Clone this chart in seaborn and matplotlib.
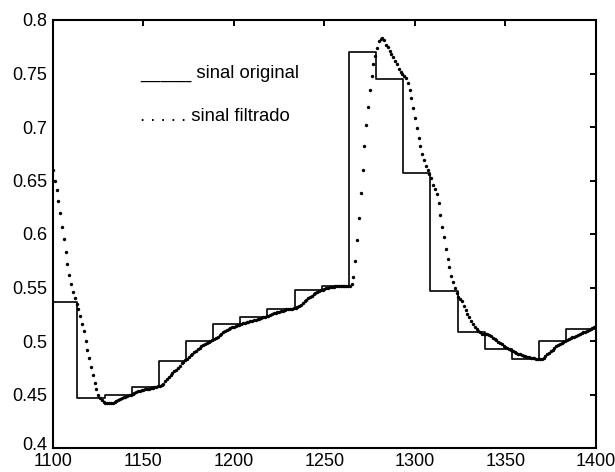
import numpy as np
import matplotlib
matplotlib.use("Agg")
import matplotlib.pyplot as plt
import matplotlib.transforms as mtransforms
import seaborn as sns

# ---- data -------------------------------------------------------------
# original (sample-and-hold) signal: change points and held levels
step_x = [1100, 1113.5, 1128.5, 1143.5, 1158.5, 1173.5, 1188.5, 1203.5, 1218.5,
          1233.5, 1248.5, 1263.5, 1278.5, 1293.5, 1308.5, 1323.5, 1338.5,
          1353.5, 1368.5, 1383.5, 1400]
step_y = [0.536, 0.447, 0.450, 0.457, 0.481, 0.500, 0.5156, 0.522, 0.5296,
          0.548, 0.551, 0.770, 0.745, 0.657, 0.547, 0.508, 0.4925,
          0.483, 0.500, 0.5115, 0.5115]

# filtered signal, one value per sample starting at 1100
filt_start = 1100
filt_y = [
    0.660, 0.650, 0.641, 0.631, 0.620, 0.607, 0.595, 0.583, 0.572, 0.562,   # 1100
    0.553, 0.546, 0.540, 0.535, 0.530, 0.523, 0.516, 0.509, 0.500, 0.492,   # 1110
    0.484, 0.476, 0.468, 0.461, 0.455, 0.450, 0.447, 0.445, 0.443, 0.4425,  # 1120
    0.442, 0.442, 0.442, 0.4425, 0.443, 0.444, 0.445, 0.446, 0.447, 0.4475, # 1130
    0.448, 0.449, 0.4495, 0.450, 0.4505, 0.451, 0.452, 0.453, 0.4535, 0.454, # 1140
    0.4545, 0.455, 0.4553, 0.4556, 0.456, 0.4563, 0.4566, 0.457, 0.4575, 0.458, # 1150
    0.4585, 0.460, 0.4625, 0.4645, 0.4665, 0.4685, 0.470, 0.4715, 0.473, 0.475, # 1160
    0.477, 0.479, 0.4805, 0.482, 0.4835, 0.485, 0.4865, 0.488, 0.4895, 0.491,   # 1170
    0.4925, 0.4935, 0.495, 0.496, 0.497, 0.498, 0.499, 0.500, 0.501, 0.502,     # 1180
    0.503, 0.504, 0.5055, 0.507, 0.508, 0.509, 0.510, 0.511, 0.512, 0.513,      # 1190
    0.5135, 0.514, 0.5145, 0.515, 0.5155, 0.5165, 0.517, 0.5175, 0.518, 0.5185, # 1200
    0.519, 0.5195, 0.520, 0.5205, 0.521, 0.5215, 0.522, 0.5225, 0.523, 0.5237,  # 1210
    0.5245, 0.5252, 0.526, 0.5265, 0.527, 0.5275, 0.528, 0.5285, 0.529, 0.5295, # 1220
    0.5298, 0.530, 0.5303, 0.5305, 0.531, 0.532, 0.533, 0.534, 0.5355, 0.537,   # 1230
    0.5385, 0.540, 0.5414, 0.5425, 0.5435, 0.5445, 0.5455, 0.5465, 0.5475, 0.548, # 1240
    0.5488, 0.5495, 0.550, 0.5503, 0.5506, 0.5508, 0.551, 0.551, 0.551, 0.551,  # 1250
    0.551, 0.551, 0.551, 0.551, 0.551, 0.553, 0.5595, 0.575, 0.594, 0.615,      # 1260
    0.638, 0.660, 0.682, 0.702, 0.719, 0.735, 0.748, 0.7586, 0.766, 0.774,      # 1270
    0.780, 0.782, 0.783, 0.781, 0.777, 0.7745, 0.771, 0.768, 0.765, 0.762,      # 1280
    0.7586, 0.7545, 0.7517, 0.7492, 0.7477, 0.7461, 0.7414, 0.7346, 0.7268, 0.7175, # 1290
    0.708, 0.699, 0.690, 0.682, 0.675, 0.669, 0.664, 0.660, 0.656, 0.652,       # 1300
    0.646, 0.642, 0.637, 0.629, 0.618, 0.607, 0.597, 0.586, 0.577, 0.569,       # 1310
    0.561, 0.555, 0.550, 0.5445, 0.5414, 0.5395, 0.5374, 0.533, 0.529, 0.5255,  # 1320
    0.522, 0.519, 0.516, 0.5134, 0.5112, 0.5095, 0.508, 0.507, 0.5068, 0.5066,  # 1330
    0.5063, 0.5055, 0.5045, 0.503, 0.5016, 0.5005, 0.4994, 0.498, 0.497, 0.4955, # 1340
    0.4945, 0.4935, 0.4925, 0.4915, 0.4905, 0.4897, 0.489, 0.4883, 0.4876, 0.487, # 1350
    0.4864, 0.4858, 0.4853, 0.4848, 0.4845, 0.4842, 0.4838, 0.4835, 0.4832, 0.483, # 1360
    0.4829, 0.4845, 0.486, 0.4875, 0.489, 0.4905, 0.492, 0.4935, 0.495, 0.4962, # 1370
    0.4973, 0.4983, 0.4993, 0.5003, 0.501, 0.5018, 0.5026, 0.5034, 0.5041, 0.5048, # 1380
    0.5056, 0.5064, 0.5072, 0.508, 0.5088, 0.5096, 0.5104, 0.5112, 0.512, 0.513, # 1390
    0.514,                                                                      # 1400
]
filt_x = np.arange(filt_start, filt_start + len(filt_y))

x_ticks = [1100, 1150, 1200, 1250, 1300, 1350, 1400]
y_ticks = [0.4, 0.45, 0.5, 0.55, 0.6, 0.65, 0.7, 0.75, 0.8]
y_tick_labels = ["0.4", "0.45", "0.5", "0.55", "0.6", "0.65", "0.7", "0.75", "0.8"]
legend_lines = ["_____ sinal original", ". . . . . sinal filtrado"]

# ---- style ------------------------------------------------------------
sns.set_style("white")
plt.rcParams["font.family"] = ["Liberation Sans", "DejaVu Sans"]

fig = plt.figure(figsize=(6.15, 4.72), dpi=100)
ax = fig.add_axes([53 / 615, 24 / 472, 543 / 615, 428 / 472])

sns.lineplot(x=step_x, y=step_y, drawstyle="steps-post", color="black",
             linewidth=1.2, ax=ax, sort=False, estimator=None)
sns.scatterplot(x=filt_x, y=filt_y, color="black", s=6, marker="o",
                linewidth=0, ax=ax, zorder=3)

ax.set_xlim(1100, 1400)
ax.set_ylim(0.4, 0.8)
ax.set_xticks(x_ticks)
ax.set_xticklabels([str(t) for t in x_ticks])
ax.set_yticks(y_ticks)
ax.set_yticklabels(y_tick_labels)
ax.tick_params(direction="in", top=True, right=True, length=4, width=1.4,
               labelsize=13, colors="black")
ax.tick_params(axis="x", pad=3.5)
ax.tick_params(axis="y", pad=4)
for sp in ax.spines.values():
    sp.set_visible(True)
    sp.set_color("black")
    sp.set_linewidth(1.5)
ax.set_xlabel("")
ax.set_ylabel("")

# lift the lowest y label slightly, as in the reference
lbl0 = ax.get_yticklabels()[0]
lbl0.set_transform(lbl0.get_transform() +
                   mtransforms.ScaledTranslation(0, 4 / 100, fig.dpi_scale_trans))

ax.text(0.160, 0.866, legend_lines[0], transform=ax.transAxes,
        fontsize=13.3, va="baseline", ha="left", color="black")
ax.text(0.160, 0.765, legend_lines[1], transform=ax.transAxes,
        fontsize=13.3, va="baseline", ha="left", color="black")

fig.savefig("out.png", dpi=100)
